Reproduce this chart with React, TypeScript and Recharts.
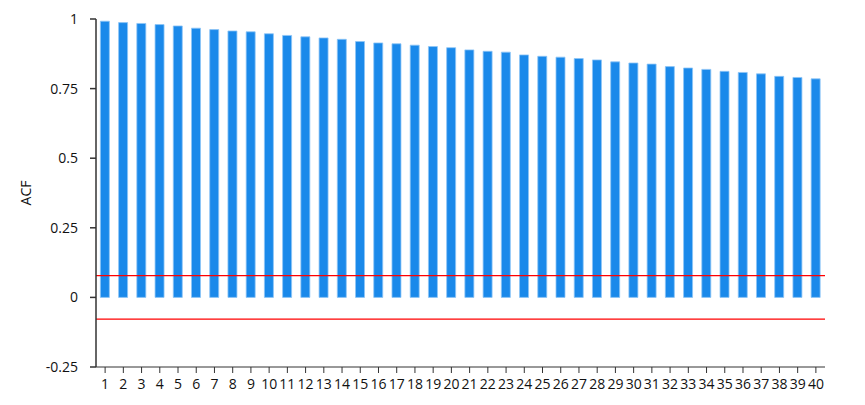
import React from 'react';
import { BarChart, Bar, XAxis, YAxis, ReferenceLine } from 'recharts';

const lags = Array.from({ length: 40 }, (_, i) => String(i + 1));
const acfValues = [
  0.992, 0.987, 0.984, 0.98, 0.975, 0.967, 0.962, 0.957, 0.954, 0.947,
  0.941, 0.936, 0.932, 0.927, 0.919, 0.914, 0.911, 0.906, 0.901, 0.897,
  0.889, 0.884, 0.881, 0.871, 0.866, 0.863, 0.858, 0.853, 0.846, 0.842,
  0.838, 0.829, 0.824, 0.819, 0.812, 0.808, 0.803, 0.794, 0.79, 0.785,
];
const yTicks = [-0.25, 0, 0.25, 0.5, 0.75, 1];
const confBound = 0.078;

const data = lags.map((lag, i) => ({ lag, acf: acfValues[i] }));

const font = '"Open Sans", "Noto Sans", sans-serif';

export default function App() {
  return (
    <div style={{ position: 'absolute', left: 0, top: 0, background: '#fff' }}>
      <BarChart
        width={865}
        height={405}
        data={data}
        margin={{ top: 19, right: 40, bottom: 0, left: 0 }}
        barCategoryGap="24%"
      >
        <XAxis
          dataKey="lag"
          interval={0}
          height={38}
          tickSize={6}
          tickMargin={6}
          stroke="#333"
          tick={{ fill: '#111', fontSize: 14, fontFamily: font }}
        />
        <YAxis
          domain={[-0.25, 1]}
          ticks={yTicks}
          width={96}
          tickSize={6}
          tickMargin={12}
          stroke="#333"
          strokeWidth={1.5}
          tick={{ fill: '#111', fontSize: 14, fontFamily: font }}
          label={{
            value: 'ACF',
            angle: -90,
            position: 'insideLeft',
            offset: 26,
            style: { fill: '#111', fontSize: 14, fontFamily: font, textAnchor: 'middle' },
          }}
        />
        <Bar
          dataKey="acf"
          fill="#1a89ea"
          stroke="#8ec5f6"
          strokeWidth={0.8}
          isAnimationActive={false}
        />
        <ReferenceLine y={confBound} stroke="#ff0000" strokeWidth={1.2} />
        <ReferenceLine y={-confBound} stroke="#ff0000" strokeWidth={1.2} />
      </BarChart>
    </div>
  );
}
